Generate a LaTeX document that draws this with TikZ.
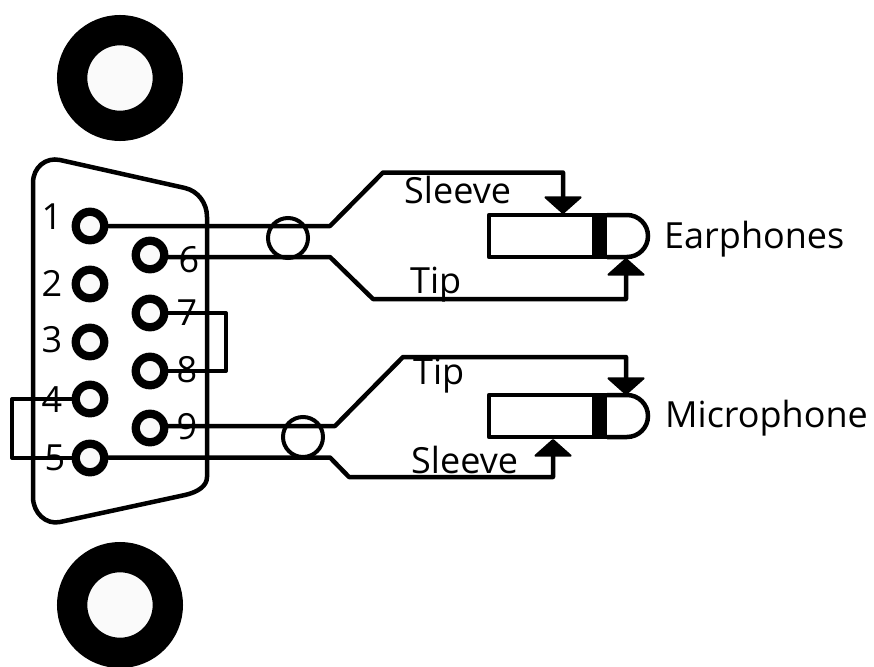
\documentclass[tikz,border=0pt]{standalone}
\usepackage{fontspec}
\setmainfont{Open Sans}
\usetikzlibrary{arrows.meta}
\definecolor{holefill}{HTML}{FAFAFA}
\tikzset{
  x=1pt,y=-1pt,
  wire/.style={line width=4.5pt,line join=round,line cap=round},
  thin wire/.style={line width=4pt,line join=round},
  shell/.style={line width=4.5pt,line join=round},
  plugarrow/.style={wire,-{Triangle[round,line width=2pt,length=18pt,width=40pt]}},
  pin/.style={circle,draw,line width=8.3pt,fill=holefill,minimum size=28.5pt,inner sep=0pt},
  mount/.style={circle,draw,line width=30.3pt,fill=holefill,minimum size=95.7pt,inner sep=0pt},
  shield/.style={circle,draw,line width=4pt,minimum size=40pt,inner sep=0pt},
  lab/.style={inner sep=0pt,font=\fontsize{36pt}{38pt}\selectfont},
  blab/.style={lab,anchor=base west},
  plugbar/.style={fill=black,draw=none,minimum width=15pt,minimum height=44pt,inner sep=0pt},
}
\begin{document}
\begin{tikzpicture}
\useasboundingbox (0,0) rectangle (874,666);
\fill[white] (0,0) rectangle (874,666);
% mounts
\begin{scope}
\clip (0,0) rectangle (874,666);
\node[mount] (m1) at (120,78) {};
\node[mount] (m2) at (120,605) {};
\end{scope}
% labels under wires
\node[lab] (n1) at (52,217) {1};
\node[lab] (n2) at (52,283) {2};
\node[lab] (n3) at (52,340) {3};
\node[lab] (n4) at (52,400) {4};
\node[lab] (n5) at (55,458) {5};
\node[lab] (n6) at (189,260) {6};
\node[lab] (n7) at (187,313) {7};
\node[lab] (n8) at (187,370) {8};
\node[lab] (n9) at (187,427) {9};
\node[blab] (sl1) at (404,203) {Sleeve};
\node[blab] (ti1) at (410,293) {Tip};
\node[blab] (ti2) at (413,384) {Tip};
\node[blab] (sl2) at (411,473) {Sleeve};
\node[blab] (ear) at (664,248) {Earphones};
\node[blab] (mic) at (665,427) {Microphone};
% shell
\draw[shell] (33,183) .. controls (33,167) and (46,157) .. (60,160)
  -- (185,188) .. controls (198,191) and (207,203) .. (207,217)
  -- (207,477) .. controls (207,486) and (198,492) .. (185,495)
  -- (60,522) .. controls (46,525) and (33,513) .. (33,497) -- cycle;
% pins
\node[pin] (p1) at (90,226) {};
\node[pin] (p2) at (90,284) {};
\node[pin] (p3) at (90,342) {};
\node[pin] (p4) at (90,399) {};
\node[pin] (p5) at (90,458) {};
\node[pin] (p6) at (150,255) {};
\node[pin] (p7) at (150,313) {};
\node[pin] (p8) at (150,371) {};
\node[pin] (p9) at (150,428) {};
% shields
\node[shield] (s1) at (288,238) {};
\node[shield] (s2) at (303,437) {};
% plug bodies
\draw[shell] (607,215) -- (489,215) -- (489,257) -- (607,257);
\draw[shell] (607,215) -- (627,215) arc[start angle=-90,end angle=90,radius=21] -- (607,257);
\draw[shell] (607,395) -- (489,395) -- (489,437) -- (607,437);
\draw[shell] (607,395) -- (627,395) arc[start angle=-90,end angle=90,radius=21] -- (607,437);
\node[plugbar] (b1) at (599.5,236) {};
\node[plugbar] (b2) at (599.5,416) {};
\coordinate (e1) at (563,214);
\coordinate (e2) at (626,258);
\coordinate (e3) at (626,395);
\coordinate (e4) at (553,439);
\coordinate (k1) at (330,226);
\coordinate (k6) at (330,257);
\coordinate (k9) at (335,426);
\coordinate (k5) at (330,457.5);
% wires
\draw[plugarrow] (k1 -| p1.east) -- (k1) -- (383,172.5) -- (563,172.5) -- (e1);
\draw[plugarrow] (k6 -| p6.east) -- (k6) -- (373,299) -- (626,299) -- (e2);
\draw[plugarrow] (k9 -| p9.east) -- (k9) -- (403,357) -- (626,357) -- (e3);
\draw[plugarrow] (k5 -| p5.east) -- (k5) -- (349,477) -- (553,477) -- (e4);
% jumpers
\draw[thin wire] (p7.east) -- (226,313) -- (226,371) -- (p8.east);
\draw[thin wire] (p4.west) -- (12,399) -- (12,458) -- (p5.west);
\end{tikzpicture}
\end{document}
